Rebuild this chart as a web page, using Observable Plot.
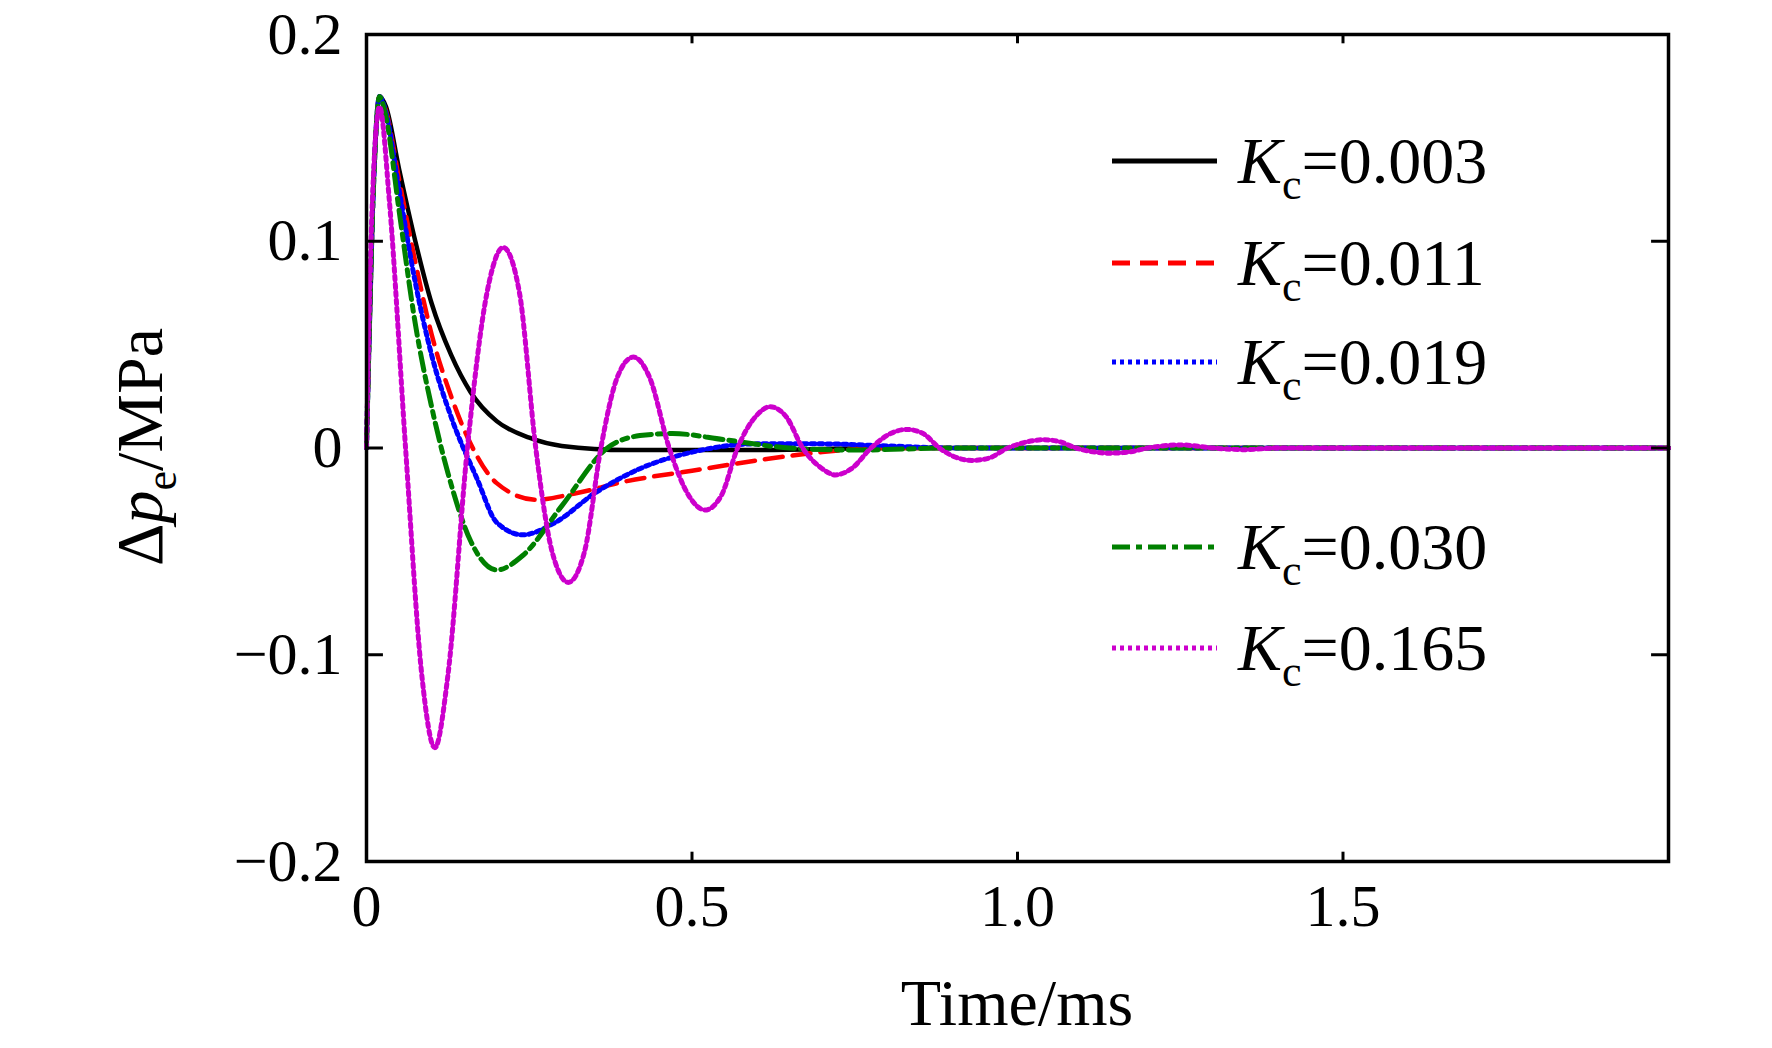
<!DOCTYPE html>
<html><head><meta charset="utf-8">
<script src="https://cdn.jsdelivr.net/npm/d3@7"></script>
<script src="https://cdn.jsdelivr.net/npm/@observablehq/plot@0.6"></script>
<style>body{margin:0;background:#fff}</style>
</head><body><div id="c"></div>
<script>
const xTicks = [0, 0.5, 1.0, 1.5];
const yTicks = [-0.2, -0.1, 0, 0.1, 0.2];
const labels = ["0.003", "0.011", "0.019", "0.030", "0.165"];
const colors = ["#000000", "#ff0000", "#0000ff", "#008000", "#cc00cc"];
const dashes = ["none", "18,10", "4,4", "18,6,6,6", "4,4"];
const kc003 = [[0,0],[0.01,0.12],[0.02,0.17],[0.03,0.165],[0.05,0.135],[0.075,0.1],[0.1,0.07],[0.13,0.045],[0.16,0.027],[0.2,0.013],[0.25,0.005],[0.3,0.001],[0.4,-0.001],[0.6,-0.001],[0.8,0],[2,0]];
const kc011 = [[0,0],[0.01,0.12],[0.02,0.17],[0.03,0.163],[0.05,0.13],[0.075,0.09],[0.1,0.055],[0.13,0.025],[0.16,0.002],[0.2,-0.017],[0.26,-0.025],[0.32,-0.022],[0.4,-0.016],[0.5,-0.011],[0.6,-0.006],[0.7,-0.002],[0.8,0],[2,0]];
const kc019 = [[0,0],[0.01,0.12],[0.02,0.17],[0.03,0.162],[0.05,0.125],[0.075,0.08],[0.1,0.045],[0.13,0.015],[0.17,-0.015],[0.2,-0.036],[0.24,-0.042],[0.29,-0.036],[0.35,-0.022],[0.42,-0.01],[0.5,-0.002],[0.6,0.002],[0.7,0.002],[0.8,0.001],[0.9,0],[2,0]];
const kc030 = [[0,0],[0.01,0.12],[0.02,0.17],[0.03,0.16],[0.05,0.115],[0.075,0.06],[0.1,0.02],[0.125,-0.012],[0.16,-0.045],[0.2,-0.059],[0.24,-0.052],[0.3,-0.028],[0.37,0],[0.42,0.006],[0.47,0.007],[0.55,0.004],[0.65,0],[0.75,-0.001],[0.9,0],[2,0]];
const kc165 = [[0,0],[0.008,0.11],[0.02,0.165],[0.035,0.12],[0.06,0],[0.085,-0.11],[0.105,-0.145],[0.125,-0.11],[0.155,0],[0.185,0.075],[0.21,0.097],[0.235,0.075],[0.26,0],[0.285,-0.05],[0.31,-0.065],[0.335,-0.05],[0.36,0],[0.385,0.034],[0.41,0.044],[0.435,0.034],[0.465,0],[0.495,-0.023],[0.52,-0.03],[0.545,-0.023],[0.57,0],[0.6,0.016],[0.62,0.02],[0.645,0.015],[0.67,0],[0.7,-0.01],[0.72,-0.013],[0.745,-0.01],[0.775,0],[0.805,0.007],[0.83,0.009],[0.855,0.007],[0.88,0],[0.91,-0.005],[0.93,-0.006],[0.955,-0.005],[0.985,0],[1.015,0.003],[1.04,0.004],[1.065,0.003],[1.09,0],[1.12,-0.002],[1.14,-0.0025],[1.17,-0.002],[1.2,0],[1.25,0.0015],[1.3,0],[1.35,-0.0008],[1.4,0],[2,0]];
const series = [kc003, kc011, kc019, kc030, kc165];
const fmtY = d => d === 0 ? "0" : (d < 0 ? "\u2212" : "") + Math.abs(d).toFixed(1);
const fmtX = d => d === 0 ? "0" : d.toFixed(1);
const font = "'Liberation Serif', 'Times New Roman', serif";

const lineMarks = series.map((s, i) => Plot.line(s, {x: d => d[0], y: d => d[1], stroke: colors[i], strokeWidth: i >= 2 ? 5 : 4.5, strokeDasharray: dashes[i], curve: "monotone-x"}));
const chart = Plot.plot({
  width: 1772, height: 1048,
  marginLeft: 366, marginRight: 104, marginTop: 34, marginBottom: 187,
  style: {fontFamily: font, fontSize: "60px", background: "#fff", color: "#000"},
  x: {domain: [0, 2], ticks: xTicks, tickFormat: fmtX, tickSize: 0, tickPadding: 22, label: null},
  y: {domain: [-0.2, 0.2], ticks: yTicks, tickFormat: fmtY, tickSize: 0, tickPadding: 24, label: null},
  marks: [
    ...lineMarks,
    Plot.ruleX(xTicks, {y1: -0.2, y2: -0.1955, strokeWidth: 3}),
    Plot.ruleX(xTicks, {y1: 0.2, y2: 0.1955, strokeWidth: 3}),
    Plot.ruleY(yTicks, {x1: 0, x2: 0.026, strokeWidth: 3}),
    Plot.ruleY(yTicks, {x1: 2, x2: 1.974, strokeWidth: 3}),
    Plot.frame({stroke: "#000", strokeWidth: 3.5})
  ]
});
document.getElementById("c").appendChild(chart);
const svg = d3.select(chart);
svg.append("text").attr("x", 1017).attr("y", 1025).attr("text-anchor", "middle")
  .style("font-family", font).style("font-size", "66px").text("Time/ms");
const yl = svg.append("text").attr("transform", "translate(162,447) rotate(-90)").attr("text-anchor", "middle")
  .style("font-family", font).style("font-size", "66px");
yl.append("tspan").text("\u0394");
yl.append("tspan").style("font-style", "italic").text("p");
yl.append("tspan").attr("dy", 14).style("font-size", "44px").text("e");
yl.append("tspan").attr("dy", -14).text("/MPa");
const ly = [161, 263, 362, 547, 648];
labels.forEach((lab, i) => {
  svg.append("line").attr("x1", 1112).attr("x2", 1217).attr("y1", ly[i]).attr("y2", ly[i])
    .attr("stroke", colors[i]).attr("stroke-width", 5).attr("stroke-dasharray", dashes[i]);
  const t = svg.append("text").attr("x", 1238).attr("y", ly[i] + 22).attr("text-anchor", "start")
    .style("font-family", font).style("font-size", "66px");
  t.append("tspan").style("font-style", "italic").text("K");
  t.append("tspan").attr("dy", 16).style("font-size", "44px").text("c");
  t.append("tspan").attr("dy", -16).text("=" + lab);
});
</script></body></html>
